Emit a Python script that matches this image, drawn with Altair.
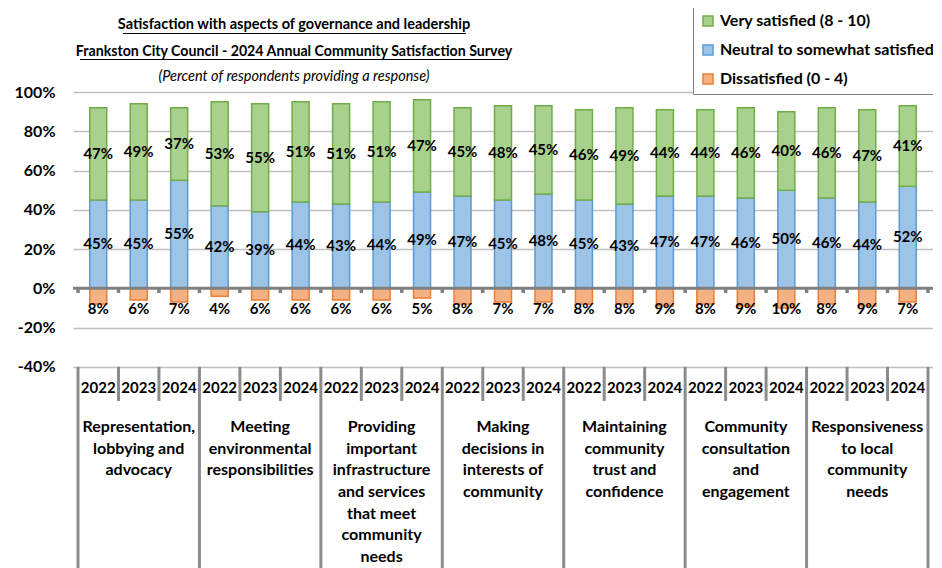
import altair as alt
import pandas as pd

# ---------------- data ----------------
title_line1 = "Satisfaction with aspects of governance and leadership"
title_line2 = "Frankston City Council - 2024 Annual Community Satisfaction Survey"
title_line3 = "(Percent of respondents providing a response)"

series_names = ["Very satisfied (8 - 10)", "Neutral to somewhat satisfied", "Dissatisfied (0 - 4)"]
fills = ["#A9D18E", "#9DC3E6", "#F4B183"]
strokes = ["#70AD47", "#5B9BD5", "#ED7D31"]

group_labels = [
    "Representation,\nlobbying and\nadvocacy",
    "Meeting\nenvironmental\nresponsibilities",
    "Providing\nimportant\ninfrastructure\nand services\nthat meet\ncommunity\nneeds",
    "Making\ndecisions in\ninterests of\ncommunity",
    "Maintaining\ncommunity\ntrust and\nconfidence",
    "Community\nconsultation\nand\nengagement",
    "Responsiveness\nto local\ncommunity\nneeds",
]
years = ["2022", "2023", "2024"]

very_satisfied = [47, 49, 37, 53, 55, 51, 51, 51, 47, 45, 48, 45, 46, 49, 44, 44, 46, 40, 46, 47, 41]
neutral = [45, 45, 55, 42, 39, 44, 43, 44, 49, 47, 45, 48, 45, 43, 47, 47, 46, 50, 46, 44, 52]
dissatisfied = [8, 6, 7, 4, 6, 6, 6, 6, 5, 8, 7, 7, 8, 8, 9, 8, 9, 10, 8, 9, 7]

y_ticks = [-40, -20, 0, 20, 40, 60, 80, 100]

# ---------------- layout constants ----------------
FONT = "Lato"
Y_MAX = 100
Y_MIN = -142.5
TABLE_TOP = -40
YEAR_ROW_BOTTOM = -57.4
YEAR_LABEL_Y = -50.9
GROUP_LABEL_Y = -66.5
DISSAT_LABEL_Y = -10.8
TICK_BOTTOM = -2.4
W, H = 860, 476

n_years = len(years)
n_bars = len(very_satisfied)

rows = []
for k in range(n_bars):
    rows.append(dict(i=k, series=series_names[1], y0=0, y1=neutral[k], value=neutral[k]))
    rows.append(dict(i=k, series=series_names[0], y0=neutral[k], y1=neutral[k] + very_satisfied[k], value=very_satisfied[k]))
    rows.append(dict(i=k, series=series_names[2], y0=-dissatisfied[k], y1=0, value=dissatisfied[k]))
bars_df = pd.DataFrame(rows)
bars_df["label"] = bars_df["value"].astype(str) + "%"
bars_df["ly"] = (bars_df["y0"] + bars_df["y1"]) / 2
bars_df.loc[bars_df["series"] == series_names[2], "ly"] = DISSAT_LABEL_Y

bound_df = pd.DataFrame({"b": [b - 0.5 for b in range(n_bars + 1)]})
bound_df["long"] = [b % n_years == 0 for b in range(n_bars + 1)]
bound_df["yb"] = [Y_MIN if l else YEAR_ROW_BOTTOM for l in bound_df["long"]]
bound_df["top"] = TABLE_TOP
bound_df["zero"] = 0
bound_df["tick"] = TICK_BOTTOM

year_df = pd.DataFrame({"i": list(range(n_bars)), "year": [years[k % n_years] for k in range(n_bars)]})
year_df["y"] = YEAR_LABEL_Y
group_df = pd.DataFrame({"c": [g * n_years + (n_years - 1) / 2 for g in range(len(group_labels))],
                         "label": group_labels})
group_df["y"] = GROUP_LABEL_Y

xs = alt.Scale(domain=[-0.5, n_bars - 0.5], nice=False, zero=False)
ys = alt.Scale(domain=[Y_MIN, Y_MAX], nice=False, zero=False)


def X(field):
    return alt.X(field, scale=xs, axis=None)


def Y(field):
    return alt.Y(field, scale=ys, title=None)


legend_kw = dict(title=None, orient="none", legendX=620, legendY=-86,
                 direction="vertical", symbolType="square", symbolSize=100,
                 labelFont=FONT, labelFontSize=16, labelFontWeight="bold",
                 labelColor="#000000", labelLimit=500, rowPadding=13,
                 padding=7, strokeColor="#7F7F7F", fillColor="#FFFFFF",
                 symbolStrokeWidth=1.5)

bars = alt.Chart(bars_df).mark_bar(size=17, strokeWidth=1.5).encode(
    x=X("i:Q"),
    y=alt.Y("y0:Q", scale=ys, title=None,
            axis=alt.Axis(values=y_ticks, labelExpr="datum.value + '%'", grid=True,
                          gridColor="#BFBFBF", gridWidth=1.5, domain=False, ticks=False,
                          labelFont=FONT, labelFontSize=16, labelFontWeight="bold",
                          labelColor="#000000", labelPadding=18)),
    y2="y1:Q",
    color=alt.Color("series:N", scale=alt.Scale(domain=series_names, range=fills),
                    sort=series_names, legend=alt.Legend(**legend_kw)),
    stroke=alt.Stroke("series:N", scale=alt.Scale(domain=series_names, range=strokes),
                      sort=series_names, legend=alt.Legend(**legend_kw)),
)

labels = alt.Chart(bars_df).mark_text(font=FONT, fontSize=15, fontWeight="bold", color="#000000",
                                      baseline="middle", align="center").encode(
    x=X("i:Q"), y=Y("ly:Q"), text="label:N",
)

zero_line = alt.Chart(pd.DataFrame({"v": [0]})).mark_rule(color="#808080", strokeWidth=3).encode(
    y=Y("v:Q")
)

zero_ticks = alt.Chart(bound_df).mark_rule(color="#808080", strokeWidth=3.5).encode(
    x=X("b:Q"), y=Y("zero:Q"), y2="tick:Q",
)

table_rules = alt.Chart(bound_df).mark_rule(color="#8C8C8C", strokeWidth=3).encode(
    x=X("b:Q"), y=Y("top:Q"), y2="yb:Q",
)

year_text = alt.Chart(year_df).mark_text(font=FONT, fontSize=15, fontWeight="bold", color="#000000",
                                         baseline="middle", align="center").encode(
    x=X("i:Q"), y=Y("y:Q"), text="year:N",
)

group_text = alt.Chart(group_df).mark_text(font=FONT, fontSize=16, fontWeight="bold", color="#000000",
                                           baseline="top", align="center", lineBreak="\n",
                                           lineHeight=21.7).encode(
    x=X("c:Q"), y=Y("y:Q"), text="label:N",
)

# ---------------- title (as text, with underlines) ----------------
TITLE_X = 221
t1 = alt.Chart(pd.DataFrame({"t": [title_line1]})).mark_text(
    font=FONT, fontSize=14.5, fontWeight="bold", color="#000000", align="center", baseline="middle"
).encode(x=alt.value(TITLE_X), y=alt.value(-67), text="t:N")
t2 = alt.Chart(pd.DataFrame({"t": [title_line2]})).mark_text(
    font=FONT, fontSize=14.2, fontWeight="bold", color="#000000", align="center", baseline="middle"
).encode(x=alt.value(TITLE_X), y=alt.value(-40), text="t:N")
t3 = alt.Chart(pd.DataFrame({"t": [title_line3]})).mark_text(
    font=FONT, fontSize=14.5, fontStyle="italic", color="#000000", align="center", baseline="middle"
).encode(x=alt.value(TITLE_X), y=alt.value(-15), text="t:N")
u1 = alt.Chart(pd.DataFrame({"a": [0]})).mark_rule(color="#000000", strokeWidth=1.2).encode(
    x=alt.value(50), x2=alt.value(393), y=alt.value(-58.5))
u2 = alt.Chart(pd.DataFrame({"a": [0]})).mark_rule(color="#000000", strokeWidth=1.2).encode(
    x=alt.value(7), x2=alt.value(435), y=alt.value(-32.5))

chart = alt.layer(
    bars, zero_line, zero_ticks, table_rules, labels, year_text, group_text, t1, t2, t3, u1, u2
).properties(
    width=W, height=H, autosize="none",
    padding={"left": 65, "top": 84, "right": 0, "bottom": 0},
    background="#FFFFFF",
).configure_view(stroke=None)

chart.save("out.html", embed_options={"renderer": "svg", "actions": False})
